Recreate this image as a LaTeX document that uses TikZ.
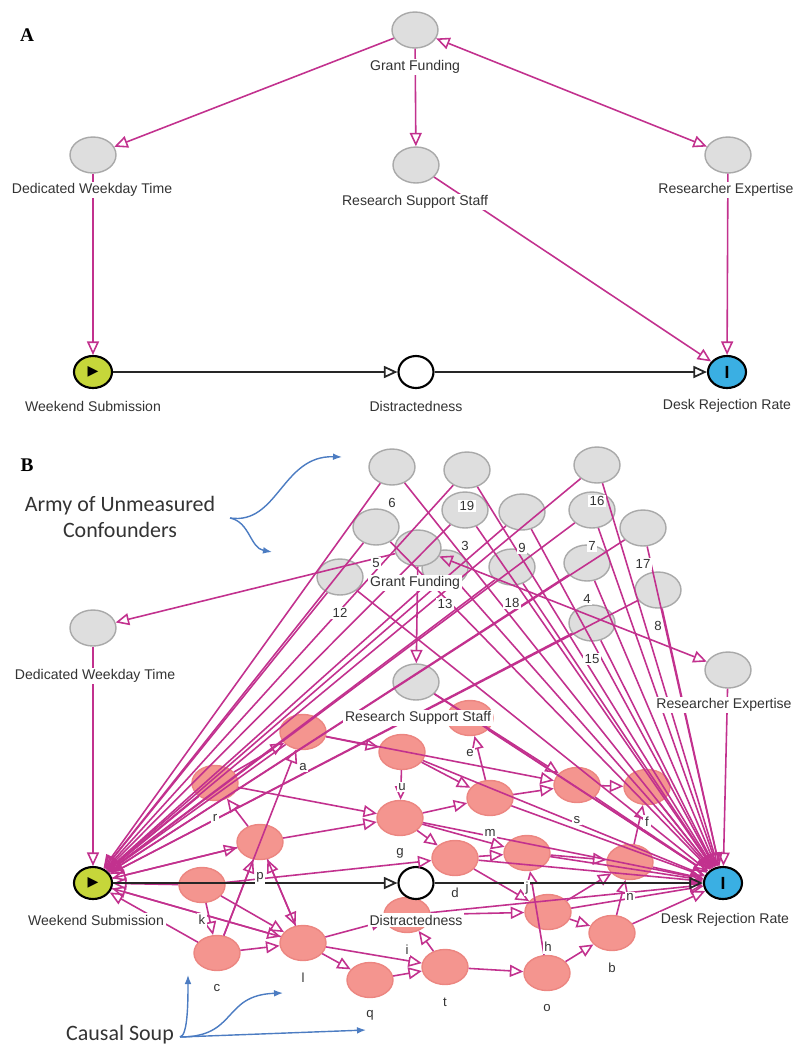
\documentclass[tikz,border=0pt]{standalone}
\usepackage{fontspec}
\setmainfont{Liberation Sans}
\newfontfamily\calfont{Carlito}
\newfontfamily\serfont{Liberation Serif}
\newfontfamily\symfont{DejaVu Sans}
\usetikzlibrary{arrows.meta,shapes.geometric}
\definecolor{edgepink}{HTML}{C2318E}
\definecolor{confgrey}{HTML}{DEDEDE}
\definecolor{confline}{HTML}{A9A9A9}
\definecolor{soupfill}{HTML}{F4958F}
\definecolor{soupline}{HTML}{EC8681}
\definecolor{expgreen}{HTML}{C6D63A}
\definecolor{outblue}{HTML}{3AAFE3}
\definecolor{notearrow}{HTML}{4C7CC2}
\tikzset{
  confnode/.style={ellipse, draw=confline, fill=confgrey, thick,
    minimum width=0.92cm, minimum height=0.72cm, inner sep=0pt},
  soupnode/.style={ellipse, draw=soupline, fill=soupfill, thick,
    minimum width=0.92cm, minimum height=0.7cm, inner sep=0pt},
  exposure/.style={ellipse, draw=black, fill=expgreen, line width=1.2pt,
    minimum width=0.76cm, minimum height=0.64cm, inner sep=0pt},
  outcome/.style={exposure, fill=outblue},
  mediator/.style={exposure, fill=white, minimum width=0.7cm},
  varlbl/.style={fill=white, inner sep=1pt, font=\fontsize{8}{9}\selectfont, text=black!80},
  numlbl/.style={fill=white, inner sep=1pt, font=\fontsize{7.5}{9}\selectfont, text=black!80},
  panel/.style={font=\serfont\bfseries\fontsize{11}{12}\selectfont},
  notetext/.style={font=\calfont\fontsize{12.5}{15}\selectfont, align=center, text=black!80},
  cause/.style={-{Triangle[open, length=2.7mm, width=2.4mm]}, draw=edgepink, line width=0.9pt},
  both/.style={{Triangle[open, length=2.7mm, width=2.4mm]}-{Triangle[open, length=2.7mm, width=2.4mm]},
    draw=edgepink, line width=0.9pt},
  pathway/.style={-{Triangle[open, length=2.7mm, width=2.4mm]}, draw=black!85, line width=1pt},
  note/.style={-{Latex[length=1.8mm]}, draw=notearrow, line width=0.8pt}
}
% unmeasured confounders: number/x/y
\def\conflist{6/392/467, 19/467/470, 16/597/465, 5/376/527, 3/465/510, 9/522/512,
  7/592/510, 17/643/528, 12/340/577, 13/445/568, 18/512/567, 4/587/563,
  8/658/590, 15/592/623}
% causal soup: letter/x/y
\def\souplist{a/303/732, b/612/933, c/217/953, d/455/858, e/470/718, f/647/787,
  g/400/818, h/548/912, i/407/915, j/527/853, k/202/885, l/303/943, m/490/798,
  n/630/862, o/547/973, p/260/842, q/370/980, r/215/783, s/577/785, t/445/967,
  u/402/752}

\begin{document}
\begin{tikzpicture}[x=0.2mm, y=-0.2mm]
  \useasboundingbox (0,0) rectangle (795,1047);

  % ---- panel A
  \node[panel] (pA) at (27,35) {A};
  \node[confnode] (gfA) at (415,30) {};
  \node[confnode] (dwA) at (93,155) {};
  \node[confnode] (rsA) at (416,165) {};
  \node[confnode] (reA) at (728,155) {};
  \node[exposure] (wsA) at (93,372) {\symfont\fontsize{8}{8}\selectfont ▶};
  \node[mediator] (diA) at (416,372) {};
  \node[outcome] (drA) at (727,372) {\bfseries\fontsize{10}{10}\selectfont I};

  \draw[cause] (gfA) -- (dwA);
  \draw[cause] (gfA) -- (rsA);
  \draw[both] (gfA) -- (reA);
  \draw[cause] (dwA) -- (wsA);
  \draw[cause] (rsA) -- (drA);
  \draw[cause] (reA) -- (drA);
  \draw[pathway] (wsA) -- (diA);
  \draw[pathway] (diA) -- (drA);

  \node[varlbl] (gfA-t) at (415,67) {Grant Funding};
  \node[varlbl] (dwA-t) at (92,190) {Dedicated Weekday Time};
  \node[varlbl] (rsA-t) at (415,202) {Research Support Staff};
  \node[varlbl] (reA-t) at (726,190) {Researcher Expertise};
  \node[varlbl] (wsA-t) at (93,406) {Weekend Submission};
  \node[varlbl] (diA-t) at (416,406) {Distractedness};
  \node[varlbl] (drA-t) at (727,406) {Desk Rejection Rate};

  % ---- panel B
  \node[panel] (pB) at (27,465) {B};
  \foreach \n/\x/\y in \conflist {
    \node[confnode] (k\n) at (\x,\y) {};
  }
  \node[confnode] (gfB) at (418,548) {};
  \node[confnode] (dwB) at (93,628) {};
  \node[confnode] (rsB) at (416,682) {};
  \node[confnode] (reB) at (728,670) {};
  \foreach \n/\x/\y in \souplist {
    \node[soupnode] (s\n) at (\x,\y) {};
  }
  \node[exposure] (wsB) at (93,883) {\symfont\fontsize{8}{8}\selectfont ▶};
  \node[mediator] (diB) at (416,883) {};
  \node[outcome] (drB) at (723,883) {\bfseries\fontsize{10}{10}\selectfont I};

  % confounders hit both ends
  \foreach \n/\x/\y in \conflist {
    \draw[cause] (k\n) -- (wsB);
    \draw[cause] (k\n) -- (drB);
  }
  % soup
  \foreach \a/\b in {r/a, p/r, a/u, u/m, m/e, a/s, s/f, n/f, g/m, m/s, u/g,
    k/l, c/l, l/t, t/o, o/b, b/n, d/h, h/b, c/p, k/c, l/i, t/i, q/t, l/q,
    d/j, j/n, g/d, p/g, r/g, c/a, p/l, g/j, h/n, o/j, l/p, i/h, k/d} {
    \draw[cause] (s\a) -- (s\b);
  }
  \foreach \a in {r, a, p, k, c, l} {
    \draw[cause] (s\a) -- (wsB);
  }
  \foreach \a in {s, f, n, b, h, j, d, m, u, e, i, g} {
    \draw[cause] (s\a) -- (drB);
  }
  \draw[cause] (wsB) -- (sp);
  \draw[cause] (wsB) -- (sl);
  \draw[cause] (rsB) -- (ss);
  \draw[cause] (gfB) -- (dwB);
  \draw[cause] (gfB) -- (rsB);
  \draw[both] (gfB) -- (reB);
  \draw[cause] (dwB) -- (wsB);
  \draw[cause] (rsB) -- (drB);
  \draw[cause] (reB) -- (drB);
  \draw[pathway] (wsB) -- (diB);
  \draw[pathway] (diB) -- (drB);

  \foreach \n/\x/\y in \conflist {
    \node[numlbl] (k\n-t) at (\x,\y+36) {\n};
  }
  \foreach \n/\x/\y in \souplist {
    \node[numlbl] (s\n-t) at (\x,\y+35) {\n};
  }
  \node[varlbl] (gfB-t) at (415,583) {Grant Funding};
  \node[varlbl] (dwB-t) at (95,676) {Dedicated Weekday Time};
  \node[varlbl] (rsB-t) at (418,718) {Research Support Staff};
  \node[varlbl] (reB-t) at (724,705) {Researcher Expertise};
  \node[varlbl] (wsB-t) at (96,920) {Weekend Submission};
  \node[varlbl] (diB-t) at (416,920) {Distractedness};
  \node[varlbl] (drB-t) at (725,920) {Desk Rejection Rate};

  % notes
  \node[notetext] (army) at (120,517) {Army of Unmeasured\\Confounders};
  \coordinate (armyfork) at (230,518);
  \coordinate (armyup) at (342,457);
  \coordinate (armydown) at (272,552);
  \draw[note] (armyfork) .. controls (278,525) and (282,455) .. (armyup);
  \draw[note] (armyfork) .. controls (250,522) and (250,548) .. (armydown);
  \node[notetext, anchor=west] (soup) at (60,1035) {Causal Soup};
  \coordinate (soupfork) at (180,1037);
  \coordinate (soupup) at (188,975);
  \coordinate (soupmid) at (283,993);
  \coordinate (soupright) at (366,1030);
  \draw[note] (soupfork) .. controls (188,1036) and (188,1000) .. (soupup);
  \draw[note] (soupfork) .. controls (238,1037) and (222,995) .. (soupmid);
  \draw[note] (soupfork) .. controls (260,1034) .. (soupright);
\end{tikzpicture}
\end{document}
